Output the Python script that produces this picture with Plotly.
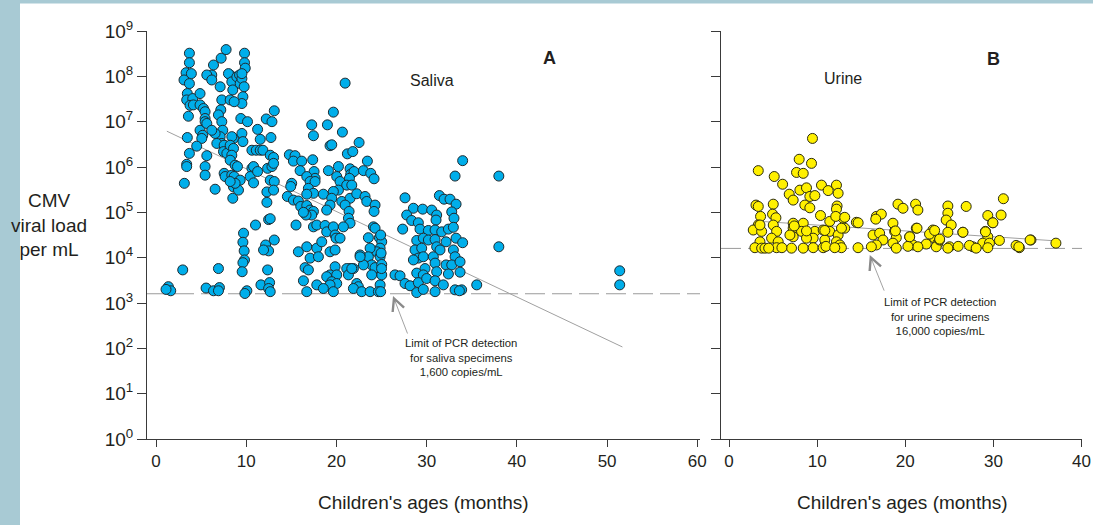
import plotly.graph_objects as go

# ---------------- data ----------------
# Panel A: saliva. age in months, log10 of viral load (copies/mL)
saliva_age = [
    3.70, 3.70, 3.33, 3.92, 3.10, 3.70, 3.47, 3.40, 4.07, 3.77, 3.59, 3.47, 3.70, 3.40, 3.40, 3.14,
    4.88, 4.14, 4.88, 5.26, 5.44, 5.44, 5.44, 4.88, 5.18, 5.07, 4.51, 5.63, 5.44, 5.44, 5.63,
    6.18, 5.63, 6.18, 6.37, 7.22, 7.77, 7.11, 7.29, 7.18, 6.92, 7.29, 7.40, 7.11, 6.55, 6.18,
    7.29, 6.74, 7.55, 7.48, 7.85, 6.55, 7.55, 7.66, 8.40, 8.59, 8.51, 9.14,
    8.22, 8.03, 8.40, 8.51, 8.22, 8.96, 9.26, 9.33, 9.52, 9.81, 9.81, 9.89, 9.52, 9.77, 9.63, 9.52,
    8.66, 8.59, 8.40, 8.22, 8.59, 8.40, 8.22, 8.77, 9.03, 9.52, 9.63, 9.40, 10.14, 8.66, 9.33, 8.77, 8.22,
    10.63, 10.81, 10.44, 10.81, 11.26, 10.63, 11.11, 11.55, 11.85, 11.26, 11.55, 12.22, 12.85, 13.11,
    12.74, 12.66, 13.03, 12.37, 12.85, 13.03, 12.66, 13.11, 12.29, 13.03, 12.29,
    11.03, 12.48, 12.66, 9.70, 9.63, 9.77, 9.81, 9.63, 9.55, 13.11, 12.15, 12.48, 11.92, 12.37,
    10.07, 9.85, 11.63, 12.59, 12.48, 12.66, 2.96, 6.92, 1.37, 1.63, 1.11, 5.55, 6.37, 7.03, 6.92,
    20.96, 19.66, 17.26, 19.00, 17.45, 20.66, 19.29, 19.48, 22.51, 21.21, 21.81, 14.78, 15.41, 15.23,
    16.15, 17.37, 23.43, 15.97, 17.52, 17.63, 19.11, 20.22, 21.51, 21.58, 21.95, 22.99, 23.80, 24.17,
    15.04, 14.93, 16.71, 17.08, 17.63, 16.89, 17.45, 16.71, 20.03, 20.40, 21.44, 21.14, 21.70, 20.22,
    19.66, 18.55, 14.56, 15.23, 15.78, 16.04, 16.71, 17.08, 17.45, 17.26, 16.63, 16.34, 19.48, 19.29,
    18.92, 20.59, 21.51, 20.96, 22.25, 23.17, 23.36, 24.28, 24.17, 21.40, 21.33, 21.51, 15.52, 17.45,
    17.82, 18.74, 18.92, 19.66, 19.85, 19.96, 20.77, 24.10, 24.28, 23.54, 24.76, 25.02, 24.84, 24.47,
    24.84, 23.73, 23.54, 23.91, 24.28, 25.02, 22.62, 22.99, 22.62, 21.88, 21.51, 21.14, 15.78, 16.71,
    17.08, 17.82, 18.00, 18.37, 19.29, 19.85, 16.52, 16.89, 19.85, 19.29, 18.92, 20.03, 19.48, 20.03,
    19.29, 19.66, 16.34, 16.71, 17.82, 18.55, 21.33, 21.70, 22.25, 22.43, 21.88, 22.80, 23.73, 24.84,
    25.02, 24.65, 23.91, 20.40, 24.90, 24.95, 24.90, 25.00,
    33.99, 33.15, 27.60, 31.41, 31.93, 32.59, 33.26, 28.53, 29.56, 30.56, 27.79, 28.34, 29.08, 31.11,
    31.04, 32.78, 33.03, 27.34, 29.26, 30.19, 30.93, 31.67, 32.41, 32.96, 28.90, 29.63, 30.19, 30.93,
    32.15, 33.26, 33.99, 28.71, 29.45, 31.11, 31.48, 32.96, 29.08, 29.63, 30.74, 33.15, 28.53, 29.82,
    30.93, 32.15, 32.78, 33.70, 26.49, 27.05, 28.90, 29.63, 31.11, 32.41, 33.70, 27.60, 28.16, 29.08,
    30.00, 30.93, 31.85, 33.15, 33.88, 35.55, 28.90, 30.93, 29.63, 33.63,
    38.0, 38.0, 51.4, 51.4,
]
saliva_log10_load = [
    8.51, 8.30, 8.08, 8.06, 7.92, 7.84, 7.62, 7.48, 7.51, 7.36, 7.12, 6.65, 6.30, 6.06, 6.01, 5.64,
    7.62, 7.37, 7.37, 7.29, 7.22, 7.07, 7.00, 6.81, 6.70, 6.63, 6.46, 6.25, 6.01, 5.82, 6.96,
    8.03, 8.03, 7.92, 8.25, 8.40, 8.59, 7.77, 7.48, 7.26, 7.15, 7.00, 6.81, 6.67, 6.74, 6.81,
    6.52, 6.52, 6.48, 6.34, 6.30, 5.51, 5.86, 5.79, 5.82, 5.56, 5.31, 5.49,
    8.03, 8.06, 7.88, 7.70, 7.48, 7.99, 8.03, 7.84, 7.95, 8.51, 8.30, 8.18, 8.06, 7.77, 7.55, 7.40,
    7.44, 6.63, 6.67, 6.48, 6.41, 6.26, 6.15, 6.04, 6.01, 6.74, 6.56, 7.07, 7.00, 5.79, 5.71, 5.64, 5.68,
    5.97, 6.01, 5.79, 5.65, 5.90, 6.37, 6.37, 6.37, 6.37, 6.83, 6.61, 7.06, 7.00, 7.24,
    6.65, 6.26, 6.21, 5.97, 6.01, 6.08, 5.71, 5.68, 5.45, 5.49, 5.22,
    4.72, 4.84, 4.86, 4.54, 4.34, 4.15, 3.95, 3.89, 3.69, 4.39, 4.28, 4.15, 4.17, 3.73,
    3.27, 3.21, 3.40, 3.45, 3.32, 3.25, 3.73, 3.76, 3.36, 3.27, 3.30, 3.33, 3.27, 3.34, 3.27,
    7.85, 7.21, 6.93, 6.93, 6.69, 6.77, 6.47, 6.49, 6.54, 6.29, 6.34, 6.27, 6.25, 6.13,
    6.13, 6.16, 6.13, 5.92, 5.90, 5.75, 5.92, 6.01, 5.96, 5.84, 5.90, 5.92, 5.86, 5.74,
    5.64, 5.57, 5.79, 5.68, 5.68, 5.53, 5.42, 5.40, 5.79, 5.68, 5.75, 5.60, 5.60, 5.49,
    5.46, 5.40, 5.35, 5.27, 5.25, 5.13, 5.15, 5.05, 5.02, 4.94, 4.94, 5.00, 5.31, 5.16,
    5.05, 5.24, 5.31, 5.16, 5.41, 5.35, 5.24, 5.16, 5.02, 5.02, 4.87, 4.76, 4.72, 4.68,
    4.72, 4.71, 4.57, 4.68, 4.50, 4.43, 4.68, 4.68, 4.65, 4.44, 4.44, 4.35, 4.21, 4.13,
    4.02, 4.21, 4.02, 3.84, 3.78, 3.85, 4.06, 3.84, 4.02, 3.76, 3.76, 3.76, 4.13, 4.24,
    3.99, 4.21, 4.02, 4.35, 4.13, 4.17, 3.78, 3.73, 3.80, 3.62, 3.58, 3.62, 3.47, 3.43,
    3.40, 3.25, 3.49, 3.25, 3.40, 3.32, 3.62, 3.76, 3.43, 3.36, 3.32, 3.25, 3.25, 3.40,
    3.62, 3.25, 3.62, 4.43, 4.50, 4.10, 3.25, 3.76,
    6.14, 5.80, 5.32, 5.37, 5.29, 5.29, 5.18, 5.09, 5.07, 5.05, 4.94, 4.82, 4.77, 4.94,
    4.83, 5.01, 4.87, 4.63, 4.63, 4.60, 4.61, 4.57, 4.63, 4.67, 4.38, 4.43, 4.39, 4.40,
    4.35, 4.43, 4.33, 4.17, 4.21, 4.24, 4.17, 4.17, 3.99, 4.02, 4.02, 4.02, 3.95, 3.76,
    3.88, 3.84, 3.84, 3.91, 3.62, 3.60, 3.66, 3.62, 3.69, 3.64, 3.68, 3.43, 3.38, 3.45,
    3.54, 3.49, 3.40, 3.29, 3.29, 3.40, 3.23, 3.25, 3.30, 3.27,
    5.80, 4.24, 3.71, 3.40,
]

# Panel B: urine
urine_age = [
    9.47, 7.96, 9.36, 3.32, 7.66, 8.42, 5.13, 6.08, 8.04, 8.79, 6.83, 7.28, 9.17, 9.74, 10.49, 11.25,
    12.19, 12.38, 8.60, 9.17, 3.06, 3.32, 5.02, 12.26, 12.19, 19.17, 19.74, 21.17, 21.43, 24.83, 26.91,
    31.13, 24.83, 24.64, 29.36, 30.87, 29.92, 3.58, 4.94, 5.32, 10.38, 11.43, 12.94, 12.11, 16.72,
    17.28, 14.45, 18.60, 3.32, 2.75, 3.70, 5.02, 5.40, 7.28, 7.28, 8.42, 8.23, 9.74, 9.55, 10.68,
    11.43, 13.13, 12.38, 21.25, 23.13, 25.21, 24.83, 26.53, 29.09, 29.36, 30.68, 34.26, 37.09, 4.83,
    5.58, 3.51, 7.28, 8.79, 10.87, 12.19, 12.57, 16.34, 17.09, 17.47, 18.79, 18.98, 20.49, 18.60,
    16.72, 20.87, 22.38, 23.32, 23.70, 25.02, 27.66, 28.79, 29.55, 32.57, 2.94, 3.70, 4.08, 5.40,
    7.09, 8.42, 9.55, 10.68, 12.75, 14.64, 16.15, 18.98, 21.43, 23.51, 24.83, 27.28, 28.04, 29.36,
    32.94, 6.91, 8.79, 22.75, 23.89,
    4.50, 6.00, 11.00, 12.00, 20.30, 26.00,
    3.51, 7.40, 10.87, 12.76, 13.13, 14.65, 16.65, 18.88, 20.50, 21.33, 23.33, 23.90, 26.54, 29.10,
    29.94, 34.16, 32.88,
]
urine_log10_load = [
    6.63, 6.17, 6.08, 5.92, 5.88, 5.86, 5.79, 5.62, 5.49, 5.54, 5.40, 5.27, 5.35, 5.37, 5.60, 5.48,
    5.60, 5.42, 5.16, 5.10, 5.16, 5.13, 5.18, 5.14, 5.07, 5.18, 5.09, 5.18, 5.05, 5.14, 5.13,
    5.30, 4.98, 4.83, 4.93, 4.94, 4.77, 4.91, 4.96, 4.88, 4.93, 4.80, 4.87, 4.91, 4.91,
    4.96, 4.78, 4.76, 4.72, 4.61, 4.58, 4.72, 4.58, 4.76, 4.65, 4.76, 4.58, 4.58, 4.43, 4.61,
    4.58, 4.65, 4.50, 4.65, 4.61, 4.72, 4.56, 4.56, 4.58, 4.46, 4.38, 4.39, 4.32, 4.43,
    4.35, 4.35, 4.46, 4.43, 4.39, 4.35, 4.28, 4.50, 4.54, 4.39, 4.58, 4.44, 4.46, 4.32,
    4.28, 4.28, 4.30, 4.43, 4.32, 4.24, 4.24, 4.32, 4.32, 4.27, 4.22, 4.21, 4.21, 4.22,
    4.21, 4.21, 4.22, 4.22, 4.22, 4.22, 4.24, 4.21, 4.24, 4.24, 4.21, 4.27, 4.21, 4.22,
    4.22, 4.50, 4.59, 4.52, 4.39,
    4.21, 4.22, 4.25, 4.22, 4.25, 4.25,
    4.72, 4.70, 4.60, 4.65, 4.89, 4.77, 4.85, 4.59, 4.46, 4.65, 4.60, 4.41, 4.56, 4.57,
    4.77, 4.39, 4.24,
]

# regression lines (end points) and PCR detection limits
saliva_fit_age = [1.2, 51.7]
saliva_fit_log10 = [6.79, 2.03]
urine_fit_age = [2.9, 37.1]
urine_fit_log10 = [4.81, 4.37]
saliva_limit = 1600
urine_limit = 16000

x_ticks_a = [0, 10, 20, 30, 40, 50, 60]
x_ticks_b = [0, 10, 20, 30, 40]
y_exponents = list(range(0, 10))

# ---------------- figure ----------------
W, H = 1093, 525
FONT = "Arial, Liberation Sans, Helvetica, sans-serif"
TXT = "#231f20"
AX = "#3a3a3a"
BLUE = "#00aeea"
YELLOW = "#fff000"

def px(x):
    return x / W

def py(y):
    return 1 - y / H

saliva_load = [10 ** v for v in saliva_log10_load]
urine_load = [10 ** v for v in urine_log10_load]

fig = go.Figure()

xa_range = [-1.0, 60.3]
xb_range = [-0.91, 40.05]

# limit lines
fig.add_trace(go.Scatter(x=xa_range, y=[saliva_limit] * 2, mode="lines",
                         line=dict(color="#9a9a9a", width=1, dash="20px,7px"),
                         xaxis="x", yaxis="y", hoverinfo="skip"))
fig.add_trace(go.Scatter(x=xb_range, y=[urine_limit] * 2, mode="lines",
                         line=dict(color="#9a9a9a", width=1, dash="20px,7px"),
                         xaxis="x2", yaxis="y2", hoverinfo="skip"))
# fit lines
fig.add_trace(go.Scatter(x=saliva_fit_age, y=[10 ** v for v in saliva_fit_log10], mode="lines",
                         line=dict(color="#a0a0a0", width=1), xaxis="x", yaxis="y", hoverinfo="skip"))
fig.add_trace(go.Scatter(x=urine_fit_age, y=[10 ** v for v in urine_fit_log10], mode="lines",
                         line=dict(color="#a0a0a0", width=1), xaxis="x2", yaxis="y2", hoverinfo="skip"))
# points
fig.add_trace(go.Scatter(x=saliva_age, y=saliva_load, mode="markers",
                         marker=dict(size=10, color=BLUE, line=dict(color="#1e2a30", width=1)),
                         xaxis="x", yaxis="y", name="Saliva"))
fig.add_trace(go.Scatter(x=urine_age, y=urine_load, mode="markers",
                         marker=dict(size=10, color=YELLOW, line=dict(color="#2a2a10", width=1)),
                         xaxis="x2", yaxis="y2", name="Urine"))

common_x = dict(showline=True, linecolor=AX, linewidth=1, ticks="outside", ticklen=7,
                tickcolor=AX, tickwidth=1, showgrid=False, zeroline=False,
                tickfont=dict(family=FONT, size=17, color=TXT), automargin=False)
fig.update_layout(
    xaxis=dict(domain=[px(147), px(700)], range=xa_range, tickvals=x_ticks_a,
               anchor="y", **common_x),
    xaxis2=dict(domain=[px(721), px(1082)], range=xb_range, tickvals=x_ticks_b,
                anchor="y2", **common_x),
    yaxis=dict(domain=[py(439), py(31)], type="log", range=[0, 9], anchor="x",
               tickvals=[10 ** e for e in y_exponents],
               ticktext=["10<sup>%d</sup>" % e for e in y_exponents],
               showline=True, linecolor=AX, linewidth=1, ticks="outside", ticklen=9,
               tickcolor=AX, showgrid=False, zeroline=False,
               tickfont=dict(family=FONT, size=19, color=TXT), automargin=False),
    yaxis2=dict(domain=[py(439), py(31)], type="log", range=[0, 9], anchor="x2",
                tickvals=[10 ** e for e in y_exponents], showticklabels=False,
                showline=True, linecolor=AX, linewidth=1, ticks="outside", ticklen=9,
                tickcolor=AX, showgrid=False, zeroline=False, automargin=False),
    width=W, height=H, margin=dict(l=0, r=0, t=0, b=0),
    paper_bgcolor="white", plot_bgcolor="white", showlegend=False,
    font=dict(family=FONT, color=TXT),
)

# page border strips
fig.add_shape(type="rect", xref="paper", yref="paper", x0=0, x1=px(20), y0=0, y1=1,
              fillcolor="#a8cad4", line=dict(width=0), layer="above")
fig.add_shape(type="rect", xref="paper", yref="paper", x0=0, x1=1, y0=py(3.5), y1=1,
              fillcolor="#a8cad4", line=dict(width=0), layer="above")

def note(text, x, y, size, bold=False):
    fig.add_annotation(text=("<b>%s</b>" % text) if bold else text, x=x, y=y,
                       xref="paper", yref="paper", showarrow=False,
                       xanchor="center", yanchor="middle",
                       font=dict(family=FONT, size=size, color=TXT))

note("A", px(549), py(58), 18, bold=True)
note("Saliva", px(432), py(80), 16)
note("B", px(993), py(59), 18, bold=True)
note("Urine", px(843), py(79), 16)
note("CMV<br>viral load<br>per mL", px(49), py(225), 19)
note("Children's ages (months)", px(423.5), py(502), 19)
note("Children's ages (months)", px(902), py(502), 19)
note("Limit of PCR detection<br>for saliva specimens<br>1,600 copies/mL", px(461), py(357), 11.3)
note("Limit of PCR detection<br>for urine specimens<br>16,000 copies/mL", px(940), py(316), 11.3)

# arrows pointing at the limit lines
fig.add_annotation(x=26.27, y=3.155, xref="x", yref="y", ax=27.94, ay=2.294,
                   axref="x", ayref="y", text="", showarrow=True, arrowhead=5,
                   arrowsize=3, arrowwidth=0.8, arrowcolor="#8a8a8a", standoff=0)
fig.add_annotation(x=15.97, y=4.06, xref="x2", yref="y2", ax=17.67, ay=3.24,
                   axref="x2", ayref="y2", text="", showarrow=True, arrowhead=5,
                   arrowsize=3, arrowwidth=0.8, arrowcolor="#8a8a8a", standoff=0)

# the page has no body margin so the figure fills the window exactly
fig.write_html("out.html", config={"displayModeBar": False},
               post_script="document.body.style.margin='0';document.body.style.overflow='hidden';")
